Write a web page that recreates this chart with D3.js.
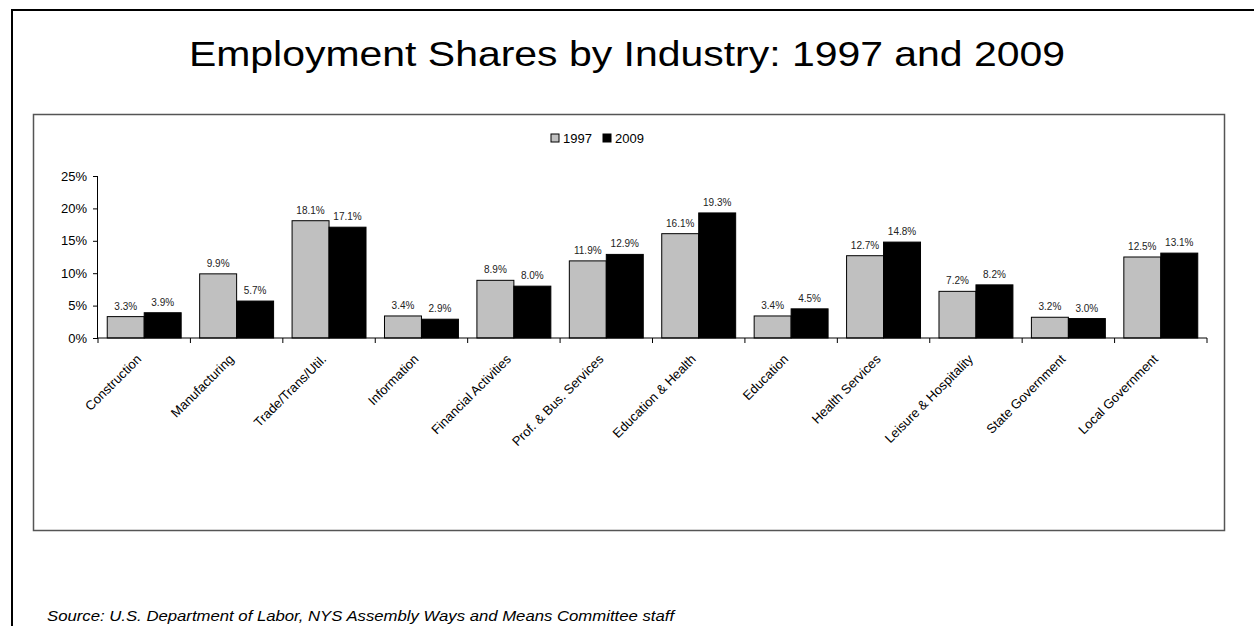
<!DOCTYPE html>
<html>
<head>
<meta charset="utf-8">
<script src="https://cdn.jsdelivr.net/npm/d3@7"></script>
<style>
  html, body { margin: 0; padding: 0; background: #fff; }
  svg { display: block; font-family: Arial, "Liberation Sans", sans-serif; }
</style>
</head>
<body>
<svg id="chart" width="1254" height="626"></svg>
<script>
// Employment shares (%) by industry, 1997 vs 2009
const industries = [
  "Construction", "Manufacturing", "Trade/Trans/Util.", "Information",
  "Financial Activities", "Prof. & Bus. Services", "Education & Health",
  "Education", "Health Services", "Leisure & Hospitality",
  "State Government", "Local Government"
];
const shares1997 = [3.3, 9.9, 18.1, 3.4, 8.9, 11.9, 16.1, 3.4, 12.7, 7.2, 3.2, 12.5];
const shares2009 = [3.9, 5.7, 17.1, 2.9, 8.0, 12.9, 19.3, 4.5, 14.8, 8.2, 3.0, 13.1];
const seriesNames = ["1997", "2009"];
const seriesColors = ["#c0c0c0", "#000000"];
const yTicks = [0, 5, 10, 15, 20, 25];

// the slide title and note are set slightly wide
const widen = 1.17;

const svg = d3.select("#chart");

// outer slide frame
svg.append("rect")
  .attr("x", 12).attr("y", 10)
  .attr("width", 1400).attr("height", 800)
  .attr("fill", "none").attr("stroke", "#000").attr("stroke-width", 2);

// title
svg.append("text")
  .attr("transform", `translate(627,66) scale(${widen},1)`)
  .attr("text-anchor", "middle")
  .attr("font-size", 35)
  .attr("fill", "#000")
  .text("Employment Shares by Industry: 1997 and 2009");

// chart area frame
svg.append("rect")
  .attr("x", 33.5).attr("y", 114.5)
  .attr("width", 1191).attr("height", 416)
  .attr("fill", "#fff").attr("stroke", "#555").attr("stroke-width", 1.5);

const plot = { left: 98, right: 1207, top: 176, bottom: 338 };

const x0 = d3.scaleBand()
  .domain(industries)
  .range([plot.left, plot.right])
  .paddingInner(0.2)
  .paddingOuter(0.1);

const x1 = d3.scaleBand()
  .domain(seriesNames)
  .range([0, x0.bandwidth()]);

const y = d3.scaleLinear()
  .domain([0, 25])
  .range([plot.bottom, plot.top]);

const rows = industries.map((name, i) => ({
  name,
  values: [
    { series: "1997", value: shares1997[i], color: seriesColors[0] },
    { series: "2009", value: shares2009[i], color: seriesColors[1] }
  ]
}));

// bars
const groups = svg.append("g").selectAll("g")
  .data(rows).join("g")
  .attr("transform", d => `translate(${x0(d.name)},0)`);

groups.selectAll("rect")
  .data(d => d.values).join("rect")
  .attr("x", d => x1(d.series))
  .attr("y", d => y(d.value))
  .attr("width", x1.bandwidth())
  .attr("height", d => y(0) - y(d.value))
  .attr("fill", d => d.color)
  .attr("stroke", "#000")
  .attr("stroke-width", 1);

// value labels
groups.selectAll("text")
  .data(d => d.values).join("text")
  .attr("x", d => x1(d.series) + x1.bandwidth() / 2)
  .attr("y", d => y(d.value) - 7)
  .attr("text-anchor", "middle")
  .attr("font-size", 10)
  .attr("fill", "#222")
  .text(d => d.value.toFixed(1) + "%");

// y axis
const yAxis = svg.append("g")
  .attr("transform", `translate(${plot.left},0)`)
  .call(d3.axisLeft(y).tickValues(yTicks).tickFormat(d => d + "%").tickSize(5).tickPadding(6));
yAxis.select(".domain").attr("stroke", "#000").attr("d", `M-0.5,${plot.top}V${plot.bottom}`);
yAxis.selectAll(".tick line").attr("stroke", "#000");
yAxis.selectAll(".tick text").attr("font-size", 13).attr("fill", "#000")
  .attr("font-family", "Arial, 'Liberation Sans', sans-serif");

// x axis: baseline with ticks on category boundaries
const xAxis = svg.append("g").attr("transform", `translate(0,${plot.bottom})`);
xAxis.append("line")
  .attr("x1", plot.left).attr("x2", plot.right)
  .attr("y1", 0).attr("y2", 0)
  .attr("stroke", "#000");
const step = x0.step();
const boundaries = d3.range(industries.length + 1).map(i => plot.left + i * step);
xAxis.selectAll("line.bound")
  .data(boundaries).join("line")
  .attr("class", "bound")
  .attr("x1", d => d).attr("x2", d => d)
  .attr("y1", 0).attr("y2", 5)
  .attr("stroke", "#000");

// slanted category labels
xAxis.selectAll("text.cat")
  .data(industries).join("text")
  .attr("class", "cat")
  .attr("text-anchor", "end")
  .attr("font-size", 13)
  .attr("fill", "#000")
  .attr("transform", d => `translate(${x0(d) + x0.bandwidth() / 2 - 2},22) rotate(-45)`)
  .text(d => d);

// legend
const legend = svg.append("g").attr("transform", "translate(551,134)");
const legendItems = legend.selectAll("g")
  .data(seriesNames).join("g")
  .attr("transform", (d, i) => `translate(${i * 52},0)`);
legendItems.append("rect")
  .attr("x", 0).attr("y", 0)
  .attr("width", 8).attr("height", 8)
  .attr("fill", (d, i) => seriesColors[i])
  .attr("stroke", "#000").attr("stroke-width", 1);
legendItems.append("text")
  .attr("x", 12).attr("y", 9)
  .attr("font-size", 13)
  .attr("fill", "#000")
  .text(d => d);

// source note
svg.append("text")
  .attr("transform", `translate(47,621) scale(${widen},1)`)
  .attr("font-size", 14.3)
  .attr("font-style", "italic")
  .attr("fill", "#000")
  .text("Source: U.S. Department of Labor, NYS Assembly Ways and Means Committee staff");
</script>
</body>
</html>
